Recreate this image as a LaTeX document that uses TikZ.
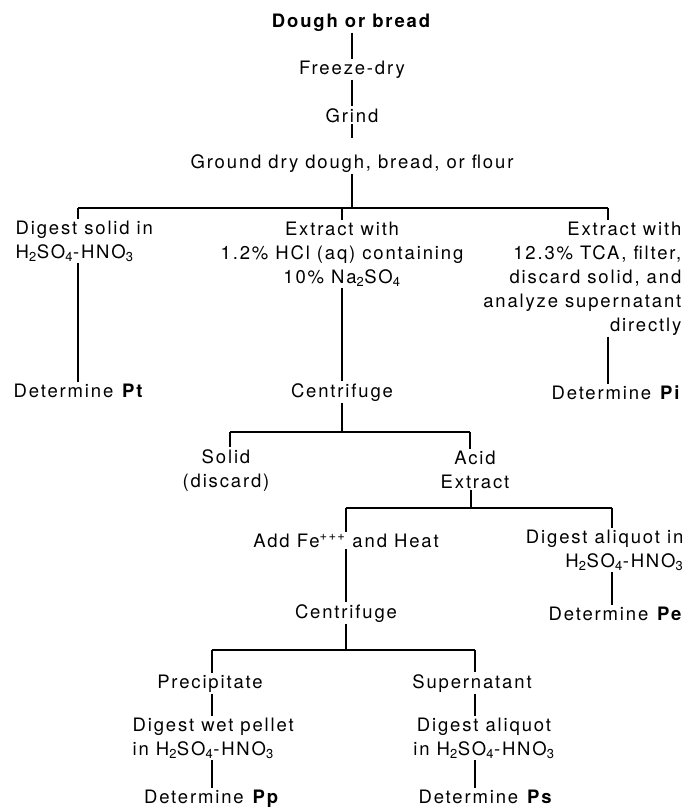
\documentclass[tikz,border=0pt]{standalone}
\usepackage{fontspec}
\setmainfont{TeX Gyre Heros}[LetterSpace=10]
\usepackage{tikz}
\usetikzlibrary{calc}

\newcommand{\acidmix}{H\textsubscript{2}SO\textsubscript{4}-HNO\textsubscript{3}}

\tikzset{
  txt/.style={font=\fontsize{18.5}{24}\selectfont, inner sep=1.5pt, align=center},
  link/.style={line width=1.7pt},
}

\begin{document}
\begin{tikzpicture}[x=1pt, y=-1pt]

\useasboundingbox (0,0) rectangle (686,809);

% top chain
\node[txt, anchor=base] (dough) at (352,27) {\textbf{Dough or bread}};
\node[txt, anchor=base] (freeze) at (352,74) {Freeze-dry};
\node[txt, anchor=base] (grind) at (352,122) {Grind};
\node[txt, anchor=base] (ground) at (352,168) {Ground dry dough, bread, or flour};

\draw[link] (dough) -- (freeze);
\draw[link] (freeze) -- (grind);
\draw[link, shorten >=14pt] (grind) -- (ground);

% three ways (base = last line)
\node[txt, anchor=base west, align=left] (digest) at (14,258) {Digest solid in\\\acidmix};
\node[txt, anchor=base] (extract) at (342,283) {Extract with\\1.2\% HCl (aq) containing\\10\% Na\textsubscript{2}SO\textsubscript{4}};
\node[txt, anchor=base east, align=right] (tca) at (683,331) {Extract with\\12.3\% TCA, filter,\\discard solid, and\\analyze supernatant\\directly};

\node[txt, anchor=base west] (pt) at (12,397) {Determine \textbf{Pt}};
\node[txt, anchor=base] (cent1) at (342,397) {Centrifuge};
\node[txt, anchor=base east] (pi) at (683,399) {Determine \textbf{Pi}};

\coordinate (split1) at (352,208);
\coordinate (bar1L) at (78,208);
\coordinate (bar1M) at (342,208);
\coordinate (bar1R) at (608,208);

\draw[link] (ground) -- (split1);
\draw[link] (bar1L) -- (bar1R);
\draw[link] (bar1L) -- (digest.north -| bar1L);
\draw[link] (bar1M) -- (extract.north);
\draw[link] (bar1R) -- (tca.north -| bar1R);

\draw[link] (digest.south -| bar1L) -- (pt.north -| bar1L);
\draw[link] (extract) -- (cent1);
\draw[link] (tca.south -| bar1R) -- (pi.north -| bar1R);

% after centrifuge
\node[txt, anchor=base] (solid) at (226,487) {Solid\\(discard)};
\node[txt, anchor=base] (acid) at (475,488) {Acid\\Extract};

\coordinate (split2) at (342,432);
\coordinate (bar2L) at (230,432);
\coordinate (bar2R) at (470,432);

\draw[link] (cent1) -- (split2);
\draw[link] (bar2L) -- (bar2R);
\draw[link] (bar2L) -- (solid.north -| bar2L);
\draw[link] (bar2R) -- (acid.north -| bar2R);

% acid extract
\node[txt, anchor=base] (fe) at (346,547) {Add Fe\textsuperscript{+++} and Heat};
\node[txt, anchor=base east, align=right] (aliquot) at (685,567) {Digest aliquot in\\\acidmix};
\node[txt, anchor=base] (cent2) at (346,618) {Centrifuge};
\node[txt, anchor=base east] (pe) at (685,620) {Determine \textbf{Pe}};

\coordinate (split3) at (471,508);
\coordinate (bar3L) at (346,508);
\coordinate (bar3R) at (612,508);

\draw[link] (acid.south -| split3) -- (split3);
\draw[link] (bar3L) -- (bar3R);
\draw[link] (bar3L) -- (fe.north);
\draw[link] (bar3R) -- (aliquot.north -| bar3R);

\draw[link] (fe) -- (cent2);
\draw[link] (aliquot.south -| bar3R) -- (pe.north -| bar3R);

% after second centrifuge
\node[txt, anchor=base] (precip) at (210,688) {Precipitate};
\node[txt, anchor=base] (super) at (472,688) {Supernatant};
\node[txt, anchor=base west, align=left] (wet) at (131,755) {Digest wet pellet\\in \acidmix};
\node[txt, anchor=base] (aliquot2) at (484,755) {Digest aliquot\\in \acidmix};
\node[txt, anchor=base] (pp) at (212,803) {Determine \textbf{Pp}};
\node[txt, anchor=base] (ps) at (486,803) {Determine \textbf{Ps}};

\coordinate (split4) at (346,650);
\coordinate (bar4L) at (212,650);
\coordinate (bar4R) at (475,650);

\draw[link] (cent2) -- (split4);
\draw[link] (bar4L) -- (bar4R);
\draw[link] (bar4L) -- (precip.north -| bar4L);
\draw[link] (bar4R) -- (super.north -| bar4R);

\draw[link] (precip.south -| bar4L) -- (wet.north -| bar4L);
\draw[link] (wet.south -| bar4L) -- (pp.north -| bar4L);
\draw[link] (super.south -| bar4R) -- (aliquot2.north -| bar4R);
\draw[link] (aliquot2.south -| bar4R) -- (ps.north -| bar4R);

\end{tikzpicture}
\end{document}
